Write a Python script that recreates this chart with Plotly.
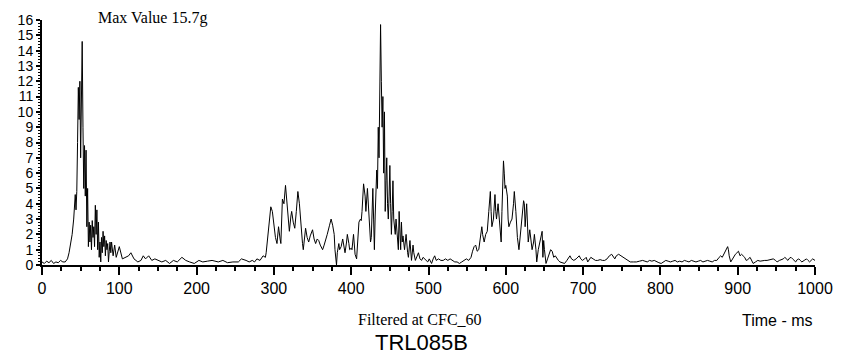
import plotly.graph_objects as go

# ---- data ----
t_pre = [0, 3, 6, 9, 12, 15, 18, 21, 24, 27, 30, 33, 35, 37, 39, 41, 43, 44]
g_pre = [0.2, 0.1, 0.25, 0.15, 0.3, 0.1, 0.2, 0.15, 0.3, 0.2, 0.2, 0.4, 0.8, 1.3, 2.0, 3.0, 4.6, 3.6]

t_pulse1 = [45, 46, 47, 48, 49, 50, 51, 52, 53, 54, 55, 56, 57, 58, 59, 60, 61, 62, 63, 64,
            65, 66, 67, 68, 69, 70, 71, 72, 73, 74, 75, 76, 77, 78, 79, 80, 81, 82, 83, 84,
            85, 86, 87, 88, 89, 90, 92, 94, 96, 98]
g_pulse1 = [4.8, 8.0, 11.6, 9.5, 12.0, 7.0, 10.3, 14.6, 9.0, 5.0, 7.8, 4.5, 7.5, 2.5, 5.0, 1.2,
            2.8, 1.5, 2.6, 1.0, 2.9, 1.8, 2.5, 1.2, 3.9, 2.0, 3.6, 1.0, 2.8, 0.5, 1.5, 0.2,
            1.8, 0.8, 2.2, 1.2, 1.9, 0.6, 1.6, 1.0, 1.4, 0.2, 0.9, 1.5, 0.8, 1.5, 0.6, 1.3,
            0.5, 0.9]

t_quiet1 = [100, 104, 108, 112, 115, 119, 124, 128, 131, 134, 138, 142, 146, 150, 155, 160,
            165, 170, 175, 181, 186, 191, 197, 203, 208, 214, 220, 228, 234, 240, 247, 254,
            258, 264, 268, 272, 275, 278, 282, 286, 289]
g_quiet1 = [1.2, 0.4, 0.5, 0.6, 0.8, 0.4, 0.2, 0.3, 0.6, 0.4, 0.6, 0.3, 0.4, 0.3, 0.2, 0.3,
            0.1, 0.3, 0.2, 0.5, 0.3, 0.2, 0.1, 0.3, 0.2, 0.25, 0.3, 0.2, 0.3, 0.15, 0.2, 0.2,
            0.4, 0.3, 0.2, 0.3, 0.2, 0.4, 0.3, 0.6, 0.5]

t_pulse2 = [290, 292, 294, 296, 298, 300, 302, 304, 306, 308, 309, 311, 313, 315, 317, 319,
            320, 322, 323, 325, 327, 329, 331, 333, 335, 337, 338, 340, 341, 343, 345, 347,
            350, 352, 354, 356, 358, 360, 363, 365, 367, 369, 372, 374, 376, 378, 379, 381,
            382, 384, 385, 387, 389, 390, 392, 394, 395, 397, 398, 400, 401, 403, 405, 407,
            409, 410, 412, 413, 414, 416, 418, 419, 421, 422, 423, 425, 426, 428, 429, 430,
            431, 433, 434, 435, 436, 437, 438, 439, 440, 441, 442, 443, 444, 445, 446, 447,
            448, 449, 450, 451, 452, 453, 454, 455, 457, 458, 459, 461, 462, 463, 464, 465,
            466, 467, 469, 470, 471, 473, 474, 476, 477, 478, 480, 481, 483, 485, 487, 489,
            491, 493, 495, 497, 499]
g_pulse2 = [0.8, 1.8, 3.0, 3.8, 3.5, 2.4, 1.8, 1.4, 2.5, 1.7, 1.4, 4.3, 4.0, 5.2, 4.0, 2.8,
            2.2, 3.2, 3.5, 2.8, 2.4, 3.5, 4.8, 4.0, 2.3, 1.4, 1.0, 2.0, 2.4, 1.8, 1.5, 1.9,
            2.3, 1.7, 1.4, 1.7, 1.6, 1.3, 1.0, 1.3, 1.6, 2.0, 2.6, 3.0, 2.6, 2.0, 1.0, 0.0,
            0.8, 1.4, 1.0, 1.2, 1.7, 1.4, 0.8, 1.5, 2.0, 1.4, 1.0, 1.1, 1.0, 2.0, 0.7, 0.4,
            1.8, 2.8, 3.0, 2.9, 3.5, 5.3, 4.5, 3.5, 5.0, 3.9, 3.0, 1.5, 1.8, 5.0, 3.0, 1.0,
            3.2, 6.2, 5.0, 9.0, 7.0, 11.5, 15.7, 12.0, 9.0, 11.0, 6.0, 10.0, 3.5, 5.5, 7.0, 4.0,
            3.0, 4.5, 6.5, 4.0, 2.0, 3.5, 5.5, 3.0, 2.0, 3.0, 2.2, 1.0, 3.5, 2.0, 1.0, 2.8,
            1.5, 1.9, 1.0, 1.5, 2.0, 0.8, 0.5, 1.6, 1.0, 0.3, 1.3, 0.8, 0.3, 0.5, 0.8, 0.4,
            0.3, 0.5, 0.4, 0.3, 0.2]

t_quiet2 = [501, 504, 506, 508, 510, 513, 516, 519, 522, 525, 528, 531, 534, 537, 540, 543,
            546, 549, 552, 555, 557, 559, 561, 563, 565, 567]
g_quiet2 = [0.4, 0.1, 0.4, 0.6, 0.3, 0.4, 0.3, 0.3, 0.4, 0.3, 0.4, 0.3, 0.2, 0.2, 0.1, 0.2,
            0.3, 0.4, 0.3, 0.5, 0.9, 1.2, 1.3, 0.9, 1.0, 1.6]

t_pulse3 = [569, 570, 572, 574, 576, 578, 580, 581, 582, 584, 586, 587, 588, 590, 591, 592,
            594, 595, 597, 598, 599, 600, 602, 603, 604, 606, 608, 610, 611, 613, 614, 615,
            617, 619, 621, 623, 624, 625, 627, 628, 629, 631, 633, 634, 636, 637, 639, 640,
            642, 644, 646, 647, 648, 649, 650, 652, 654, 656, 658, 660, 662, 664, 666, 668]
g_pulse3 = [2.5, 2.0, 1.5, 2.0, 2.2, 3.5, 4.8, 3.5, 2.5, 3.0, 4.6, 3.5, 3.0, 4.0, 3.2, 2.5,
            1.5, 3.5, 6.8, 6.0, 5.0, 5.2, 4.5, 3.0, 2.5, 2.8, 3.0, 4.0, 4.8, 3.5, 2.5, 1.8,
            1.0, 2.0, 3.0, 4.2, 4.0, 2.5, 4.0, 3.0, 1.5, 2.3, 1.5, 1.0, 1.5, 2.0, 1.0, 0.2,
            1.0, 1.5, 2.0, 2.2, 0.5, 1.6, 1.0, 0.1, 0.4, 0.8, 1.0, 0.9, 0.5, 0.6, 0.4, 0.3]

t_tail = [670, 673, 676, 679, 681, 683, 685, 688, 691, 693, 695, 697, 699, 702, 704, 706,
          708, 710, 713, 716, 719, 722, 725, 728, 731, 734, 737, 739, 741, 743, 746, 749,
          752, 755, 758, 761, 765, 769, 773, 777, 780, 783, 786, 789, 792, 795, 798, 801,
          804, 807, 810, 813, 816, 819, 822, 825, 828, 831, 834, 837, 840, 843, 846, 849,
          852, 855, 858, 861, 864, 867, 870, 873, 876, 878, 880, 882, 884, 886, 887, 888,
          889, 891, 893, 895, 897, 899, 901, 903, 905, 907, 909, 911, 913, 916, 918, 920,
          923, 926, 929, 932, 935, 938, 941, 944, 946, 949, 951, 954, 957, 959, 961, 963,
          965, 967, 969, 971, 973, 975, 977, 979, 981, 983, 986, 989, 991, 993, 995, 997, 1000]
g_tail = [0.2, 0.15, 0.1, 0.3, 0.5, 0.6, 0.4, 0.3, 0.4, 0.5, 0.6, 0.4, 0.3, 0.4, 0.5, 0.2,
          0.4, 0.5, 0.4, 0.3, 0.3, 0.35, 0.3, 0.3, 0.4, 0.6, 0.7, 0.5, 0.4, 0.6, 0.7, 0.6,
          0.5, 0.4, 0.3, 0.2, 0.2, 0.2, 0.25, 0.3, 0.25, 0.2, 0.3, 0.25, 0.3, 0.2, 0.15, 0.1,
          0.2, 0.3, 0.25, 0.2, 0.25, 0.3, 0.2, 0.25, 0.2, 0.3, 0.25, 0.2, 0.3, 0.25, 0.2, 0.25,
          0.3, 0.2, 0.25, 0.3, 0.25, 0.2, 0.3, 0.3, 0.5, 0.6, 0.5, 0.7, 0.8, 1.0, 1.2, 1.0,
          0.6, 0.2, 0.4, 0.6, 0.7, 0.8, 0.9, 0.6, 0.7, 0.6, 0.5, 0.3, 0.35, 0.5, 0.3, 0.1,
          0.2, 0.3, 0.25, 0.3, 0.3, 0.3, 0.35, 0.4, 0.4, 0.3, 0.2, 0.3, 0.35, 0.4, 0.5, 0.4,
          0.3, 0.45, 0.5, 0.4, 0.3, 0.2, 0.35, 0.4, 0.3, 0.2, 0.3, 0.4, 0.3, 0.2, 0.3, 0.4, 0.3]

time_ms = t_pre + t_pulse1 + t_quiet1 + t_pulse2 + t_quiet2 + t_pulse3 + t_tail
accel_g = g_pre + g_pulse1 + g_quiet1 + g_pulse2 + g_quiet2 + g_pulse3 + g_tail

x_ticks = list(range(0, 1001, 100))
y_ticks = list(range(0, 17))

max_label = "Max Value 15.7g"
filter_label = "Filtered at CFC_60"
axis_label = "Time - ms"
test_label = "TRL085B"

sans = "Liberation Sans Narrow, Liberation Sans, Arial, sans-serif"
serif = "Liberation Serif, Times New Roman, serif"

fig = go.Figure()
fig.add_trace(go.Scatter(x=time_ms, y=accel_g, mode="lines",
                         line=dict(color="black", width=1), hoverinfo="skip",
                         showlegend=False))

fig.update_layout(
    width=845, height=356,
    margin=dict(l=42, r=23, t=19, b=91),
    paper_bgcolor="white", plot_bgcolor="white",
    xaxis=dict(range=[0, 1000], tickvals=x_ticks, ticktext=[str(v) for v in x_ticks],
               showgrid=False, zeroline=False, showline=True, linecolor="black",
               linewidth=2, ticks="outside", ticklen=8, tickwidth=2, tickcolor="black",
               tickfont=dict(family=sans, size=16, color="black"),
               minor=dict(dtick=25, tick0=0, ticks="outside", ticklen=4, tickwidth=2,
                          tickcolor="black", showgrid=False)),
    yaxis=dict(range=[0, 16], tickvals=y_ticks, ticktext=[str(v) for v in y_ticks],
               showgrid=False, zeroline=False, showline=True, linecolor="black",
               linewidth=2, ticks="outside", ticklen=4, tickwidth=2, tickcolor="black",
               tickfont=dict(family=sans, size=14, color="black"),
               minor=dict(dtick=0.2, tick0=0, ticks="outside", ticklen=2, tickwidth=1,
                          tickcolor="black", showgrid=False)),
    annotations=[
        dict(text=max_label, xref="paper", yref="paper", x=0.0705, y=(265 - 17) / 246,
             xanchor="left", yanchor="middle", showarrow=False,
             font=dict(family=serif, size=16, color="black")),
        dict(text=filter_label, xref="paper", yref="paper", x=(423 - 42) / 780,
             y=(265 - 320) / 246, xanchor="center", yanchor="middle", showarrow=False,
             font=dict(family=serif, size=16, color="black")),
        dict(text=axis_label, xref="paper", yref="paper", x=1.0, y=(265 - 321) / 246,
             xanchor="right", yanchor="middle", showarrow=False,
             font=dict(family=sans, size=16, color="black")),
        dict(text=test_label, xref="paper", yref="paper", x=(425 - 42) / 780,
             y=(265 - 343) / 246, xanchor="center", yanchor="middle", showarrow=False,
             font=dict(family=sans, size=22, color="black")),
    ],
)

fig.write_html("out.html")
